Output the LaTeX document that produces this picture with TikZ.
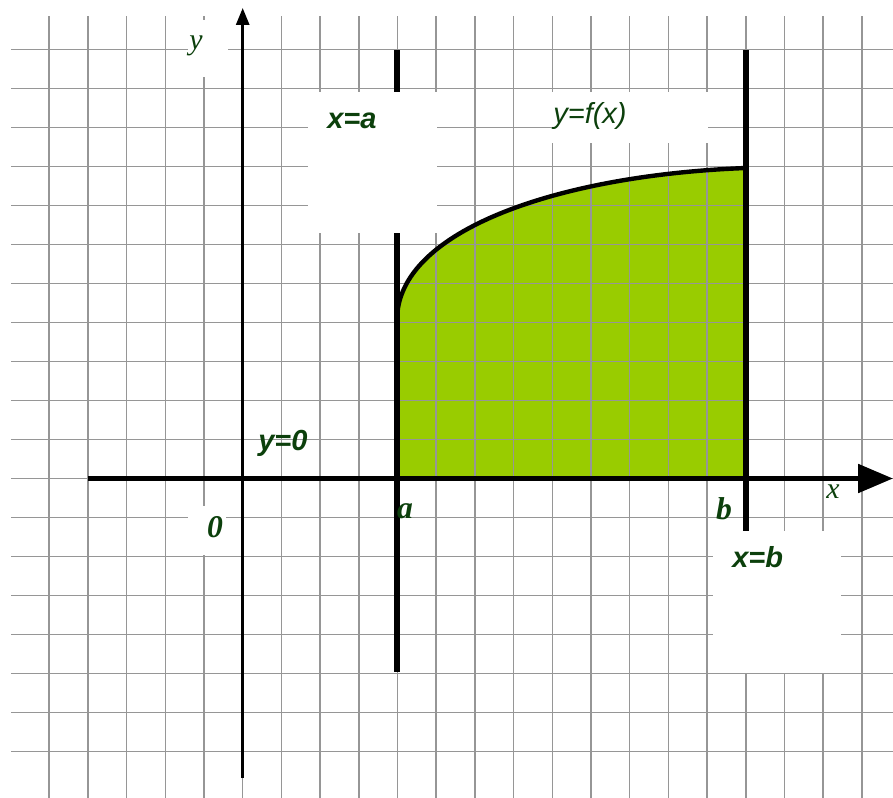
\documentclass[tikz,border=0pt]{standalone}
\usepackage{fontspec}
\setmainfont{Liberation Serif}
\setsansfont{Liberation Sans}
\usepackage{xcolor}
\usetikzlibrary{arrows.meta}

\definecolor{labelgreen}{RGB}{12,64,12}
\definecolor{areagreen}{RGB}{153,204,0}
\definecolor{gridgray}{RGB}{150,150,150}

\begin{document}
\begin{tikzpicture}[
    x=0.02cm, y=-0.02cm,
    gridline/.style={gridgray, line width=0.9pt},
    bound/.style={line width=3.1pt},
    graph/.style={line width=2.5pt},
    xaxis/.style={line width=2.9pt, -{Triangle[length=19.8pt, width=15.9pt]}},
    yaxis/.style={line width=1.5pt, -{Triangle[length=9.6pt, width=7.4pt]}},
    mask/.style={fill=white},
    eqlabel/.style={font=\sffamily\bfseries\itshape\fontsize{16.5}{18}\selectfont, text=labelgreen, inner sep=0pt, anchor=base west},
    ticklabel/.style={font=\itshape\fontsize{17}{19}\selectfont, text=labelgreen, inner sep=0pt, anchor=base},
]
    \useasboundingbox (0,0) rectangle (893,798);

    % Key points
    \coordinate (xstart) at (88,478.5);
    \coordinate (xend) at (893,478.5);
    \coordinate (ystart) at (242.7,778);
    \coordinate (yend) at (242.7,8);
    \coordinate (atop) at (397,50);
    \coordinate (abot) at (397,672);
    \coordinate (btop) at (746,50);
    \coordinate (bbot) at (746,672);
    \coordinate (fa) at (397,320);
    \coordinate (fb) at (746,168);

    % Area under the curve
    \fill[areagreen] (397,478.5) -- (fa) .. controls (397,230) and (560,175) .. (fb) -- (746,478.5) -- cycle;

    % Grid
    \foreach \i in {-5,...,16}
        \draw[gridline] ({242.7+38.7*\i},16) -- ({242.7+38.7*\i},798);
    \foreach \j in {-11,...,7}
        \draw[gridline] (11,{478.5+39*\j}) -- (893,{478.5+39*\j});

    % Bounds and curve
    \draw[bound] (atop) -- (abot);
    \draw[bound] (btop) -- (bbot);
    \draw[graph] (fa) .. controls (397,230) and (560,175) .. (fb);

    % Axes
    \draw[xaxis] (xstart) -- (xend);
    \draw[yaxis] (ystart) -- (yend);

    % White boxes behind labels
    \fill[mask] (188,20) rectangle (228,77);
    \fill[mask] (308,92) rectangle (437,233);
    \fill[mask] (552,92) rectangle (708,143);
    \fill[mask] (713,531) rectangle (841,673);
    \fill[mask] (188,506) rectangle (226,555);

    % Labels
    \node[eqlabel] (xa) at (327,128) {x=a};
    \node[eqlabel, font=\sffamily\itshape\fontsize{16.5}{18}\selectfont] (fx) at (553,123) {y=f(x)};
    \node[eqlabel] (yzero) at (258,450) {y=0};
    \node[eqlabel] (xb) at (732,567) {x=b};
    \node[ticklabel] (ylab) at (196,49) {y};
    \node[ticklabel] (xlab) at (833,498) {x};
    \node[ticklabel, font=\bfseries\itshape\fontsize{18}{20}\selectfont] (origin) at (215,537) {0};
    \node[ticklabel, font=\bfseries\itshape\fontsize{18}{20}\selectfont] (alab) at (405,518) {a};
    \node[ticklabel, font=\bfseries\itshape\fontsize{18}{20}\selectfont] (blab) at (724,519) {b};
\end{tikzpicture}
\end{document}
